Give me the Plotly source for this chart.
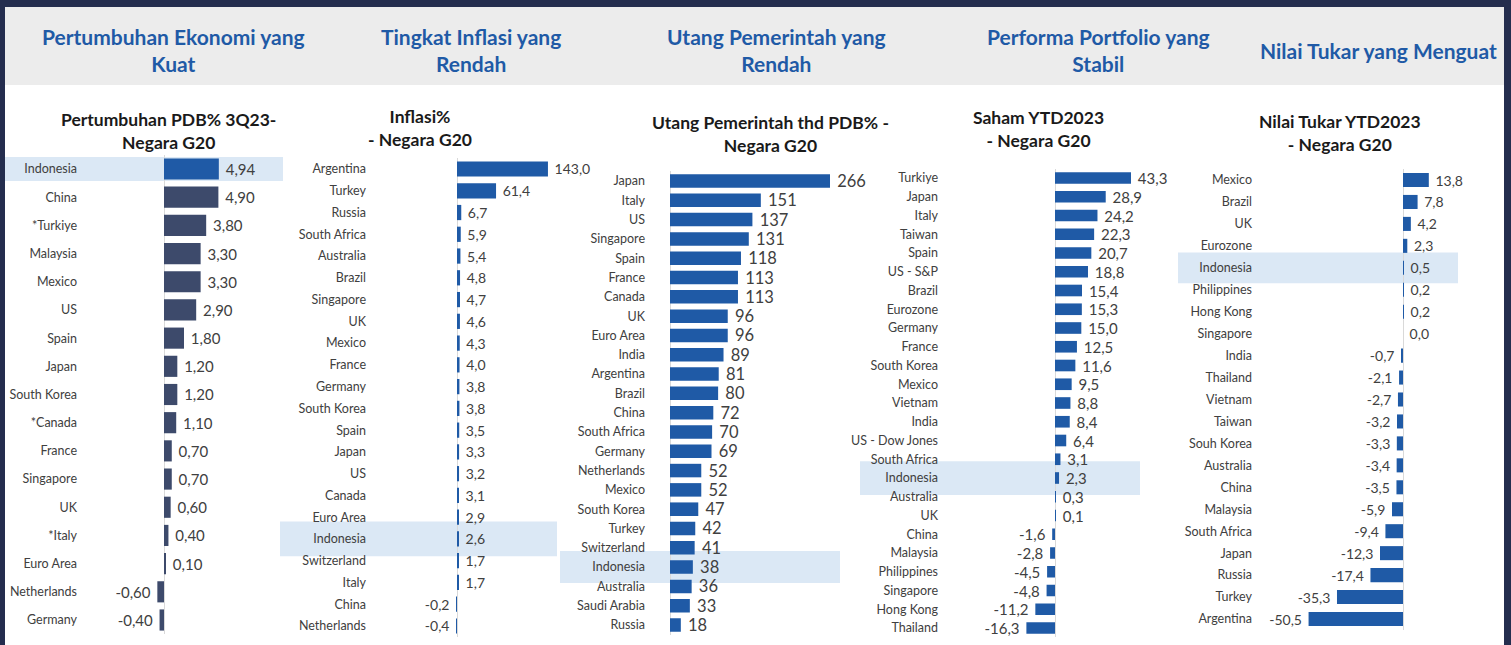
import plotly.graph_objects as go

# ---- data ----
gdp_countries = ["Indonesia", "China", "*Turkiye", "Malaysia", "Mexico", "US", "Spain", "Japan",
                 "South Korea", "*Canada", "France", "Singapore", "UK", "*Italy", "Euro Area",
                 "Netherlands", "Germany"]
gdp_values = [4.94, 4.90, 3.80, 3.30, 3.30, 2.90, 1.80, 1.20, 1.20, 1.10, 0.70, 0.70, 0.60, 0.40,
              0.10, -0.60, -0.40]

infl_countries = ["Argentina", "Turkey", "Russia", "South Africa", "Australia", "Brazil", "Singapore",
                  "UK", "Mexico", "France", "Germany", "South Korea", "Spain", "Japan", "US", "Canada",
                  "Euro Area", "Indonesia", "Switzerland", "Italy", "China", "Netherlands"]
infl_values = [143.0, 61.4, 6.7, 5.9, 5.4, 4.8, 4.7, 4.6, 4.3, 4.0, 3.8, 3.8, 3.5, 3.3, 3.2, 3.1,
               2.9, 2.6, 1.7, 1.7, -0.2, -0.4]

debt_countries = ["Japan", "Italy", "US", "Singapore", "Spain", "France", "Canada", "UK", "Euro Area",
                  "India", "Argentina", "Brazil", "China", "South Africa", "Germany", "Netherlands",
                  "Mexico", "South Korea", "Turkey", "Switzerland", "Indonesia", "Australia",
                  "Saudi Arabia", "Russia"]
debt_values = [266, 151, 137, 131, 118, 113, 113, 96, 96, 89, 81, 80, 72, 70, 69, 52, 52, 47, 42, 41,
               38, 36, 33, 18]

stock_countries = ["Turkiye", "Japan", "Italy", "Taiwan", "Spain", "US - S&P", "Brazil", "Eurozone",
                   "Germany", "France", "South Korea", "Mexico", "Vietnam", "India", "US - Dow Jones",
                   "South Africa", "Indonesia", "Australia", "UK", "China", "Malaysia", "Philippines",
                   "Singapore", "Hong Kong", "Thailand"]
stock_values = [43.3, 28.9, 24.2, 22.3, 20.7, 18.8, 15.4, 15.3, 15.0, 12.5, 11.6, 9.5, 8.8, 8.4, 6.4,
                3.1, 2.3, 0.3, 0.1, -1.6, -2.8, -4.5, -4.8, -11.2, -16.3]

fx_countries = ["Mexico", "Brazil", "UK", "Eurozone", "Indonesia", "Philippines", "Hong Kong",
                "Singapore", "India", "Thailand", "Vietnam", "Taiwan", "Souh Korea", "Australia",
                "China", "Malaysia", "South Africa", "Japan", "Russia", "Turkey", "Argentina"]
fx_values = [13.8, 7.8, 4.2, 2.3, 0.5, 0.2, 0.2, 0.0, -0.7, -2.1, -2.7, -3.2, -3.3, -3.4, -3.5, -5.9,
             -9.4, -12.3, -17.4, -35.3, -50.5]

headers = ["Pertumbuhan Ekonomi yang<br>Kuat", "Tingkat Inflasi yang<br>Rendah",
           "Utang Pemerintah yang<br>Rendah", "Performa Portfolio yang<br>Stabil",
           "Nilai Tukar yang Menguat"]
titles = ["Pertumbuhan PDB% 3Q23-<br>Negara G20", "Inflasi%<br>- Negara G20",
          "Utang Pemerintah thd PDB% -<br>Negara G20", "Saham YTD2023<br>- Negara G20",
          "Nilai Tukar YTD2023<br>- Negara G20"]

W, H = 1511, 645
NAVY = "#242d4e"
BLUE = "#1f5aa6"
SLATE = "#3d4a6b"
TXT = "#404040"
FONT = "Lato"
NBSP = "\u00a0"


def px(x):
    return x / W


def py(y):
    return 1 - y / H


# layout per panel (pixels): domain left/right, zero position, px per unit, first/last row centre,
# header centre, title centre, highlight band x extent and half height (in rows), value format/size
panels = [
    dict(cats=gdp_countries, vals=gdp_values, dl=78, dr=283, zero=164, sc=11.1, r0=169, r1=620,
         hx=173, tx=168, ty=131, bx=(5, 283), bh=0.43, fmt="%{x:.2f}", vs=15, gap=0.25),
    dict(cats=infl_countries, vals=infl_values, dl=367, dr=557, zero=457, sc=0.636, r0=169, r1=626,
         hx=471, tx=420, ty=128, bx=(280, 557), bh=0.8, fmt="%{x:.1f}", vs=14, gap=0.3),
    dict(cats=debt_countries, vals=debt_values, dl=646, dr=840, zero=670, sc=0.6015, r0=181, r1=625,
         hx=776, tx=770, ty=134, bx=(560, 840), bh=0.83, fmt="%{x:.0f}", vs=16.5, gap=0.3),
    dict(cats=stock_countries, vals=stock_values, dl=939, dr=1140, zero=1055, sc=1.755, r0=178, r1=628,
         hx=1098, tx=1038, ty=129, bx=(860, 1140), bh=0.9, fmt="%{x:.1f}", vs=15, gap=0.38),
    dict(cats=fx_countries, vals=fx_values, dl=1253, dr=1458, zero=1403, sc=1.87, r0=180, r1=619,
         hx=1378, tx=1340, ty=133, bx=(1178, 1458), bh=0.7, fmt="%{x:.1f}", vs=14, gap=0.36),
]

fig = go.Figure()
shapes = [
    dict(type="rect", xref="paper", yref="paper", x0=px(5), x1=px(1504), y0=py(7), y1=0,
         fillcolor="white", line_width=0, layer="below"),
    dict(type="rect", xref="paper", yref="paper", x0=px(5), x1=px(1504), y0=py(7), y1=py(85),
         fillcolor="#ececec", line_width=0, layer="below"),
]
annotations = []
layout_axes = {}

for i, p in enumerate(panels):
    n = i + 1
    xa = "x" if n == 1 else f"x{n}"
    ya = "y" if n == 1 else f"y{n}"
    cats, vals = p["cats"], p["vals"]
    if n == 1:
        colors = [BLUE if c == "Indonesia" else SLATE for c in cats]
    else:
        colors = BLUE
    # small gap between bar end and its label (on the outer side)
    tmpl = [NBSP + p["fmt"] if v >= 0 else p["fmt"] + NBSP for v in vals]
    fig.add_trace(go.Bar(
        x=vals, y=cats, orientation="h", xaxis=xa, yaxis=ya, width=1 - p["gap"],
        marker=dict(color=colors, line_width=0),
        texttemplate=tmpl, textposition="outside", textangle=0, constraintext="none",
        textfont=dict(family=FONT, size=p["vs"], color=TXT),
        cliponaxis=False, hoverinfo="skip", showlegend=False,
    ))
    rows = len(cats)
    sp = (p["r1"] - p["r0"]) / (rows - 1)
    top = p["r0"] - sp / 2
    bot = p["r1"] + sp / 2
    xr = [-(p["zero"] - p["dl"]) / p["sc"], (p["dr"] - p["zero"]) / p["sc"]]
    layout_axes["xaxis" if n == 1 else f"xaxis{n}"] = dict(
        domain=[px(p["dl"]), px(p["dr"])], range=xr, anchor=ya,
        showticklabels=False, showgrid=False, showline=False, ticks="",
        zeroline=True, zerolinecolor="#d9d9d9", zerolinewidth=1, fixedrange=True,
    )
    layout_axes["yaxis" if n == 1 else f"yaxis{n}"] = dict(
        domain=[py(bot), py(top)], anchor=xa, type="category",
        categoryorder="array", categoryarray=cats, autorange="reversed",
        showgrid=False, showline=False, zeroline=False, ticks="",
        tickfont=dict(family=FONT, size=12.5, color=TXT), fixedrange=True,
    )
    idx = cats.index("Indonesia")
    shapes.append(dict(type="rect", xref="paper", yref=ya, x0=px(p["bx"][0]), x1=px(p["bx"][1]),
                       y0=idx - p["bh"], y1=idx + p["bh"], fillcolor="#dbe8f5",
                       line_width=0, layer="below"))
    annotations.append(dict(text=f"<b>{headers[i]}</b>", xref="paper", yref="paper",
                            x=px(p["hx"]), y=py(50), xanchor="center", yanchor="middle",
                            showarrow=False, font=dict(family=FONT, size=21, color=BLUE)))
    annotations.append(dict(text=f"<b>{titles[i]}</b>", xref="paper", yref="paper",
                            x=px(p["tx"]), y=py(p["ty"]), xanchor="center", yanchor="middle",
                            showarrow=False, font=dict(family=FONT, size=17.5, color="#1a1a1a")))

fig.update_layout(
    width=W, height=H, margin=dict(l=0, r=0, t=0, b=0),
    paper_bgcolor=NAVY, plot_bgcolor="rgba(0,0,0,0)",
    separators=",.", shapes=shapes, annotations=annotations,
    font=dict(family=FONT, color=TXT), showlegend=False,
    **layout_axes,
)

fig.write_html("out.html", config={"displayModeBar": False},
               post_script="document.body.style.margin='0';")
